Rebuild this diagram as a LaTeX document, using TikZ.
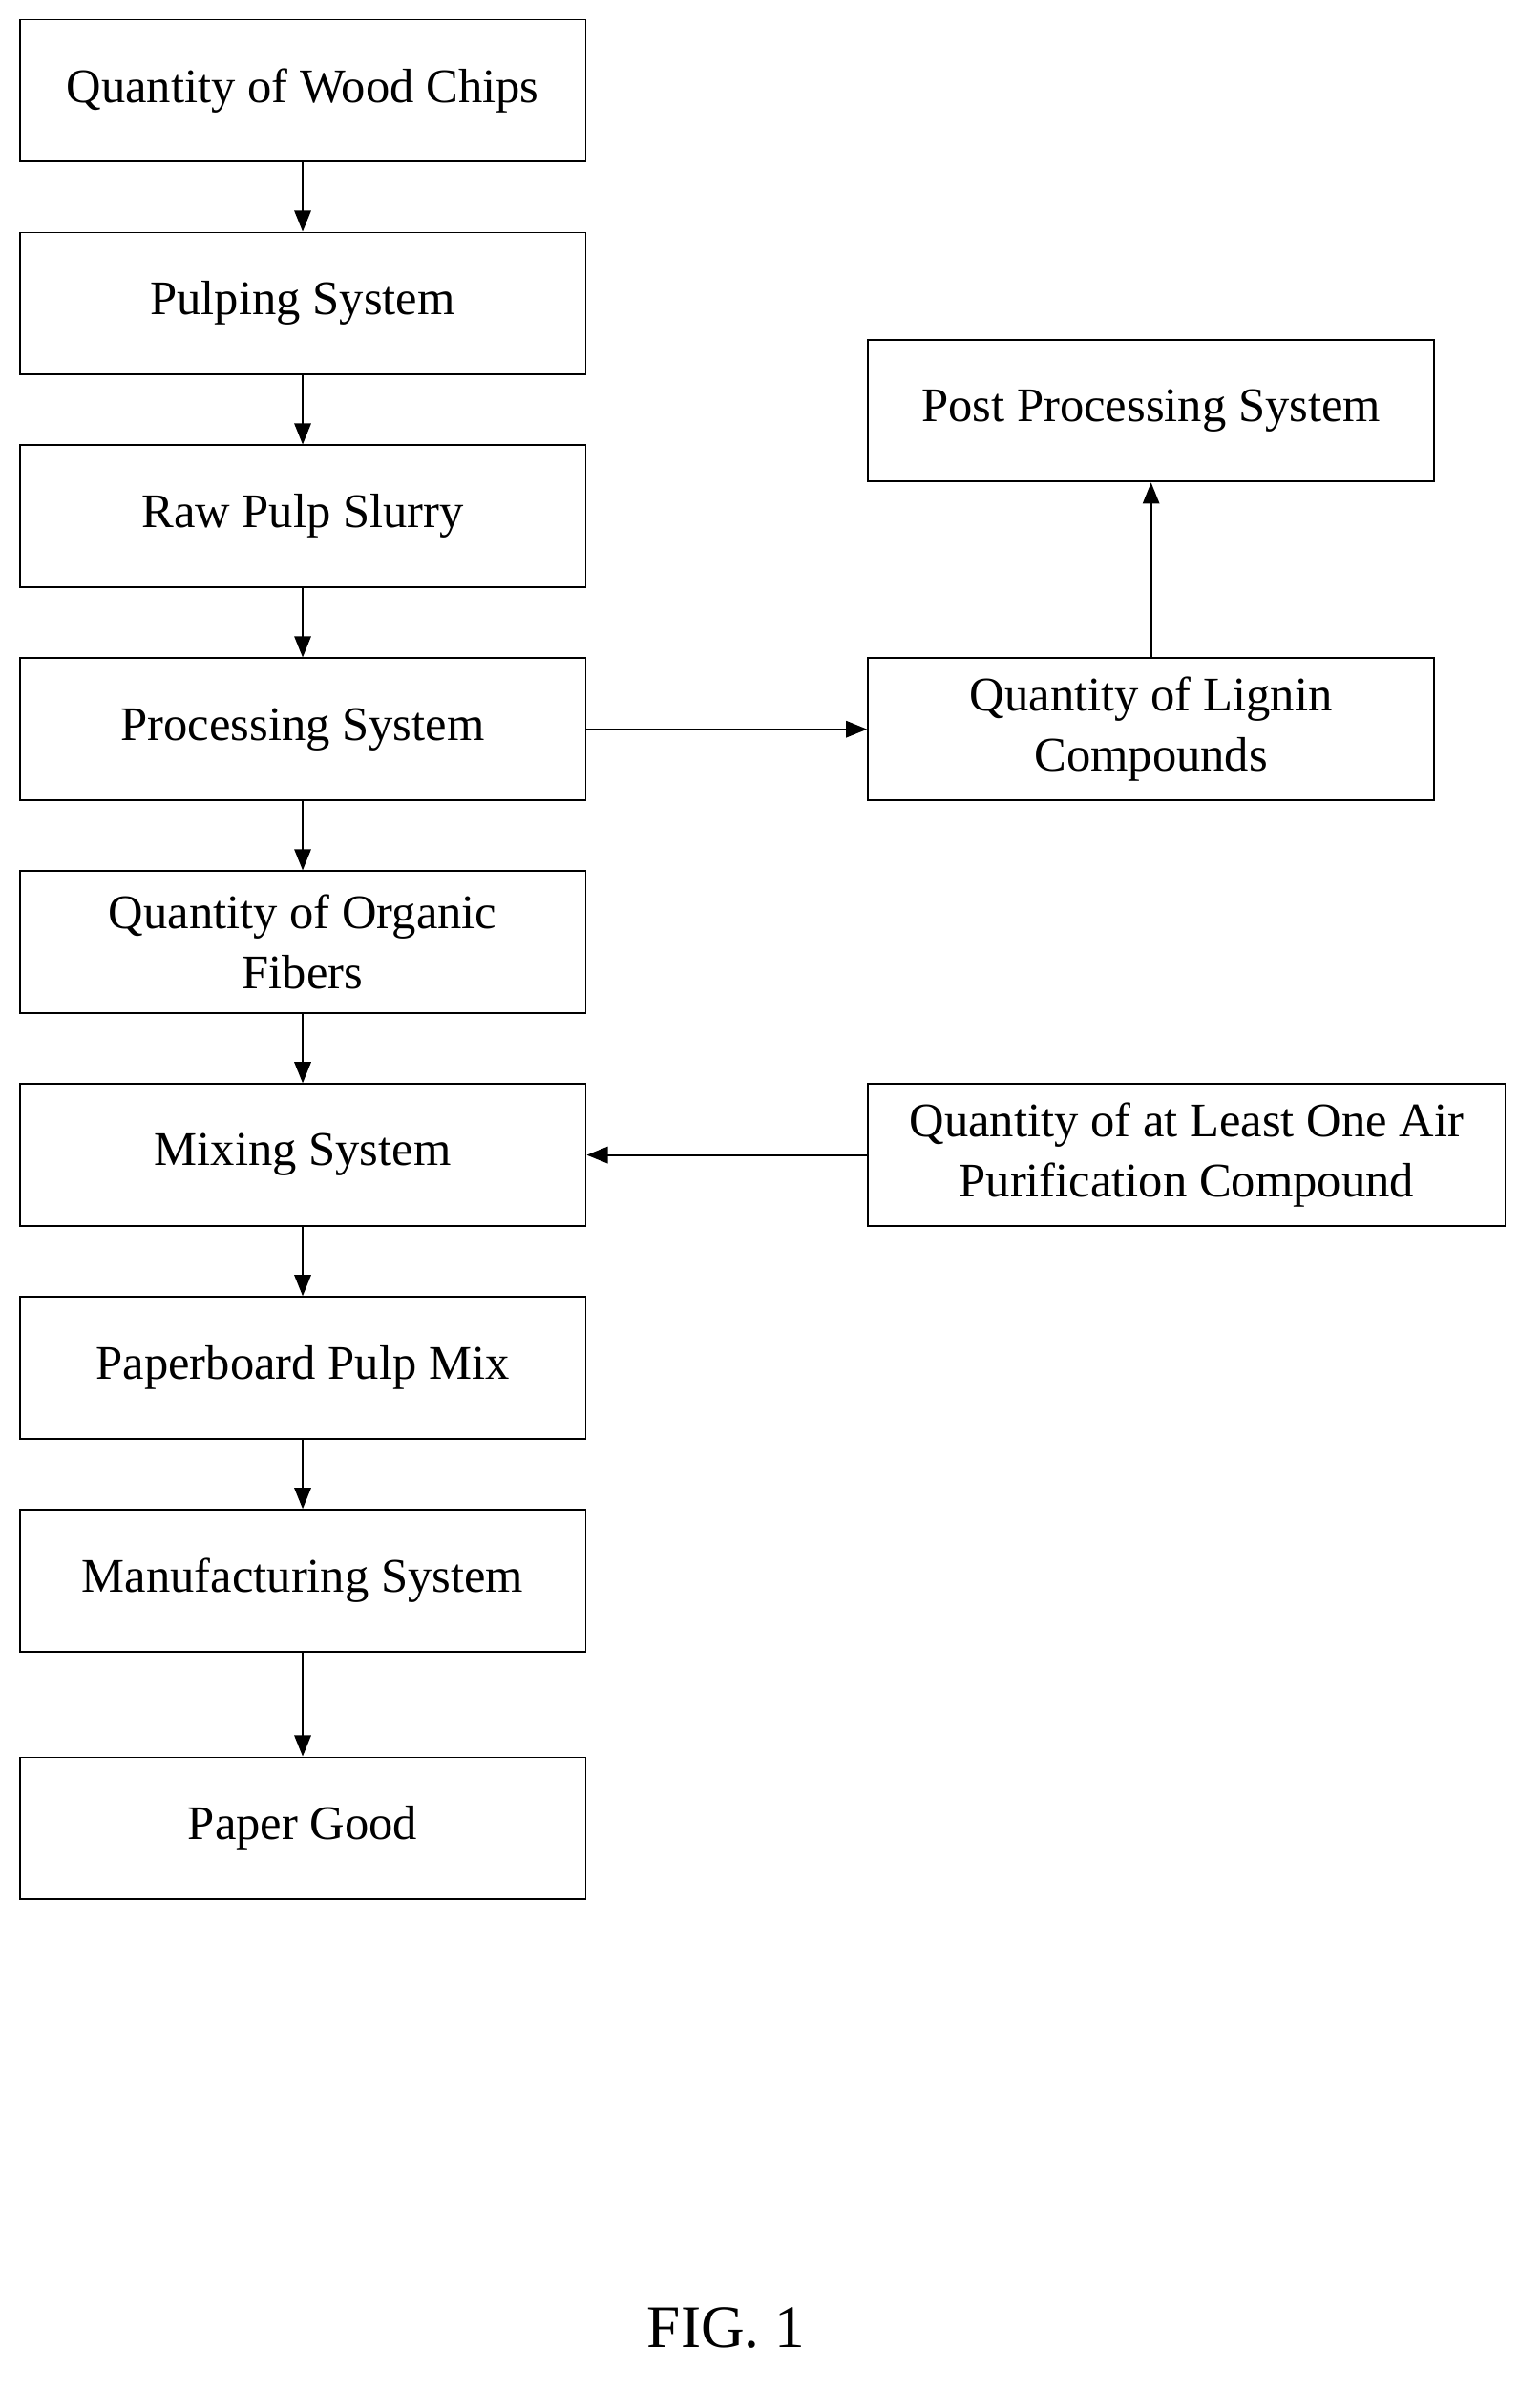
\documentclass[tikz,border=0pt]{standalone}
\usepackage{fontspec}
\setmainfont{Liberation Serif}
\usetikzlibrary{arrows.meta}
\begin{document}
\begin{tikzpicture}[x=0.5pt,y=-0.5pt,
  box/.style={draw,line width=0.6pt,minimum width=187.5pt,minimum height=47pt,align=center,inner sep=0pt,font=\fontsize{16}{20}\selectfont},
  arr/.style={line width=0.6pt,-{Triangle[length=7pt,width=5.5pt]}}]
\useasboundingbox (0,0) rectangle (1020,1583);
\node[box] (a) at (200.5,60) {Quantity of Wood Chips};
\node[box] (b) at (200.5,201) {Pulping System};
\node[box] (c) at (200.5,342) {Raw Pulp Slurry};
\node[box] (d) at (200.5,483) {Processing System};
\node[box] (e) at (200.5,624) {Quantity of Organic\\Fibers};
\node[box] (f) at (200.5,765) {Mixing System};
\node[box] (g) at (200.5,906) {Paperboard Pulp Mix};
\node[box] (h) at (200.5,1047) {Manufacturing System};
\node[box] (i) at (200.5,1211) {Paper Good};
\node[box] (p) at (762.5,272) {Post Processing System};
\node[box] (l) at (762.5,483) {Quantity of Lignin\\Compounds};
\node[box,minimum width=211pt] (q) at (786,765) {Quantity of at Least One Air\\Purification Compound};
\node[font=\fontsize{20}{24}\selectfont] (fig) at (481,1542) {FIG. 1};
\draw[arr] (a) -- (b);
\draw[arr] (b) -- (c);
\draw[arr] (c) -- (d);
\draw[arr] (d) -- (e);
\draw[arr] (e) -- (f);
\draw[arr] (f) -- (g);
\draw[arr] (g) -- (h);
\draw[arr] (h) -- (i);
\draw[arr] (d) -- (l);
\draw[arr] (l) -- (p);
\draw[arr] (q) -- (f);
\end{tikzpicture}
\end{document}
